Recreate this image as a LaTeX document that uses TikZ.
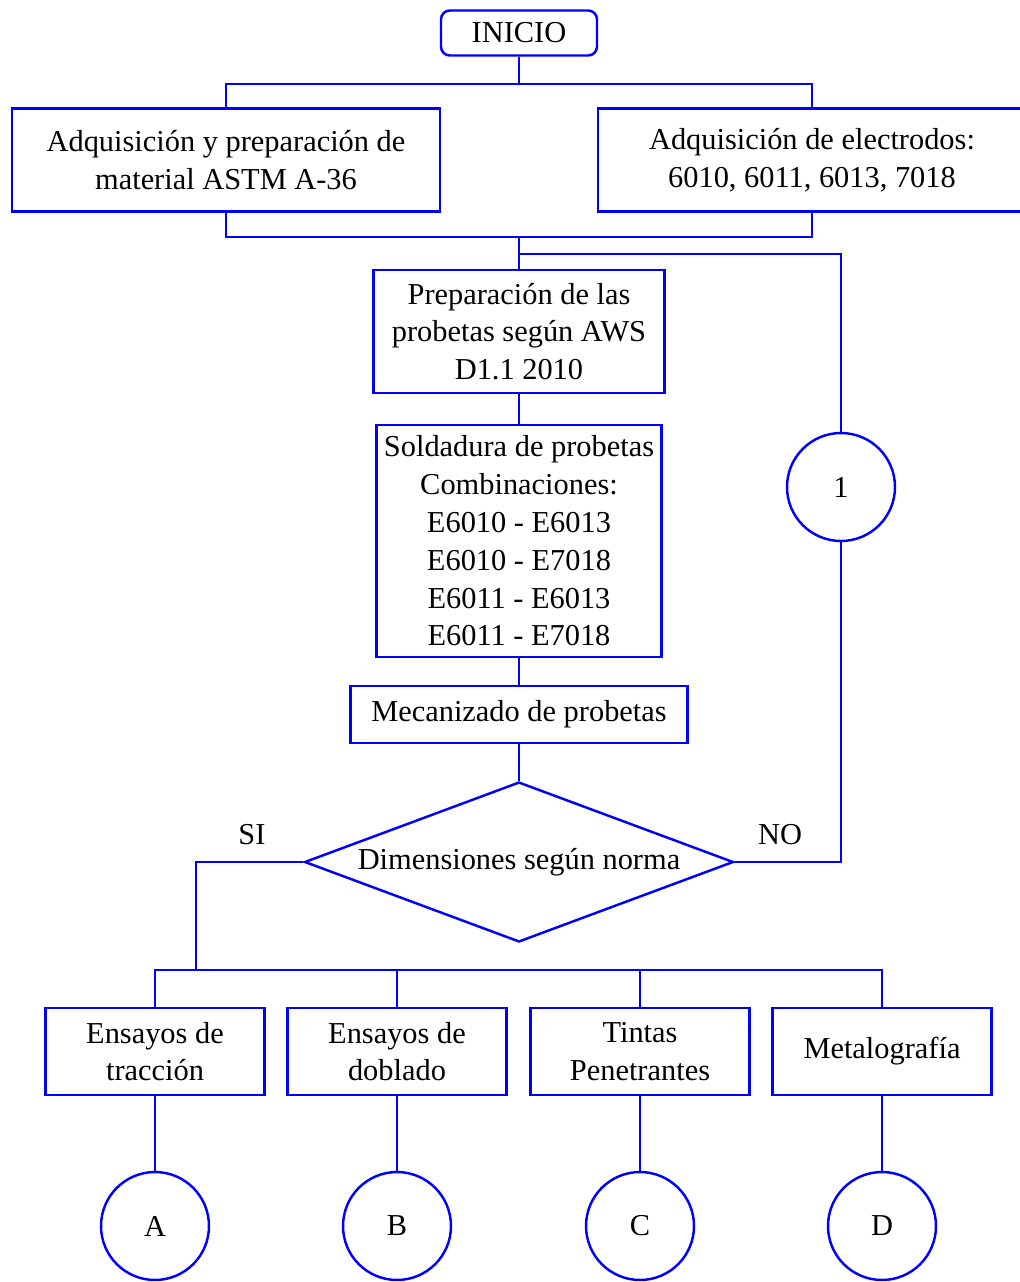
\documentclass[tikz,border=0pt]{standalone}
\usepackage{fontspec}
\setmainfont{Liberation Serif}
\usetikzlibrary{shapes.geometric}

\begin{document}
\begin{tikzpicture}[x=0.02cm,y=-0.02cm,
  every node/.style={font=\fontsize{17.3}{21.5}\selectfont},
  caja/.style={draw=blue,line width=1.4pt,align=center,inner sep=0pt},
  conector/.style={draw=blue,line width=1.4pt,circle,minimum size=2.16cm,inner sep=0pt},
  linea/.style={blue,line width=1.4pt}]
\useasboundingbox (0,0) rectangle (1020,1282);
\node[caja,rounded corners=5pt,minimum width=3.12cm,minimum height=0.9cm] (ini) at (519,33) {INICIO};
\node[caja,minimum width=8.56cm,minimum height=2.06cm] (adq) at (226,160) {Adquisición y preparación de\\material ASTM A-36};
\node[caja,minimum width=8.56cm,minimum height=2.06cm] (elec) at (812,160) {Adquisición de electrodos:\\6010, 6011, 6013, 7018};
\node[caja,minimum width=5.82cm,minimum height=2.46cm] (prep) at (519,331.5) {Preparación de las\\probetas según AWS\\D1.1 2010};
\node[caja,minimum width=5.7cm,minimum height=4.64cm] (sold) at (519,541) {Soldadura de probetas\\Combinaciones:\\E6010 - E6013\\E6010 - E7018\\E6011 - E6013\\E6011 - E7018};
\node[caja,minimum width=6.74cm,minimum height=1.14cm] (mec) at (519,714.5) {Mecanizado de probetas};
\node[caja,diamond,shape aspect=2.68,minimum width=8.58cm,minimum height=3.2cm] (dim) at (519,862) {Dimensiones según norma};
\node[conector] (c1) at (841,487) {1};
\node (si) at (252,835) {SI};
\node (no) at (780,835) {NO};
% ensayos
\node[caja,minimum width=4.38cm,minimum height=1.74cm] (trac) at (155,1051.5) {Ensayos de\\tracción};
\node[caja,minimum width=4.38cm,minimum height=1.74cm] (dobl) at (397,1051.5) {Ensayos de\\doblado};
\node[caja,minimum width=4.38cm,minimum height=1.74cm] (tint) at (640,1051.5) {Tintas\\Penetrantes};
\node[caja,minimum width=4.38cm,minimum height=1.74cm] (meta) at (882,1051.5) {Metalografía};
\node[conector] (ca) at (155,1226) {A};
\node[conector] (cb) at (397,1226) {B};
\node[conector] (cc) at (640,1226) {C};
\node[conector] (cd) at (882,1226) {D};
% lineas
\coordinate (j1) at (519,84);
\coordinate (j2) at (519,237);
\coordinate (j3) at (519,254);
\coordinate (j4) at (196,970);
\draw[linea] (ini.south) -- (j1);
\draw[linea] (adq.north) |- (j1) -| (elec.north);
\draw[linea] (adq.south) |- (j2) -| (elec.south);
\draw[linea] (j2) -- (prep.north);
\draw[linea] (j3) -| (c1.north);
\draw[linea] (prep.south) -- (sold.north);
\draw[linea] (sold.south) -- (mec.north);
\draw[linea] (mec.south) -- (dim.north);
\draw[linea] (dim.east) -| (c1.south);
\draw[linea] (dim.west) -| (j4);
\draw[linea] (trac.north) |- (j4) -| (meta.north);
\draw[linea] (dobl.north) -- (dobl.north |- j4);
\draw[linea] (tint.north) -- (tint.north |- j4);
\draw[linea] (trac.south) -- (ca.north);
\draw[linea] (dobl.south) -- (cb.north);
\draw[linea] (tint.south) -- (cc.north);
\draw[linea] (meta.south) -- (cd.north);
\end{tikzpicture}
\end{document}
